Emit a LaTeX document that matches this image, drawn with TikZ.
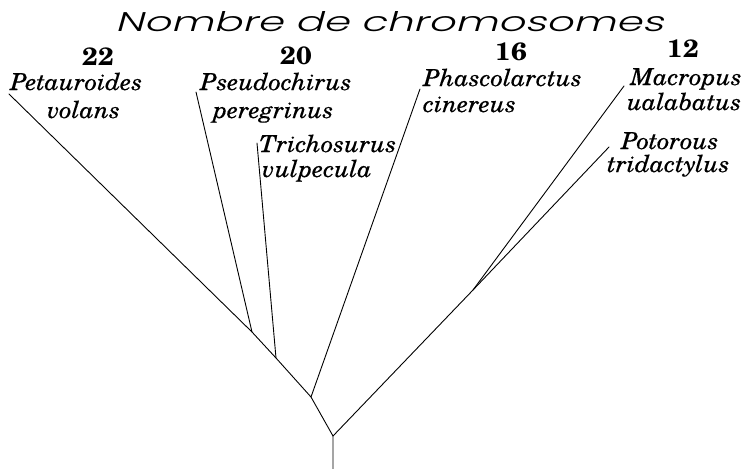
\documentclass[tikz,border=0pt]{standalone}
\usepackage{fontspec}
\newfontfamily\titlefont{Poppins Light}[FakeSlant=0.18]
\newfontfamily\spfont{texgyreschola-italic.otf}[FakeStretch=1.05,FakeBold=0.2]
\newfontfamily\numfont{texgyreschola-bold.otf}[FakeStretch=1.1]
\begin{document}
\begin{tikzpicture}[x=1pt,y=-1pt,
  branch/.style={line width=0.9pt,line cap=round,line join=round},
  species/.style={anchor=base west,inner sep=0pt,font=\fontsize{23.5}{28}\spfont},
  count/.style={anchor=base,inner sep=0pt,font=\fontsize{25}{28}\numfont}]
\useasboundingbox (0,0) rectangle (756,469);
\fill[white] (0,0) rectangle (756,469);
% title
\node[anchor=south west,inner sep=0pt] (title) at (115,32)
  {\resizebox{548pt}{20pt}{\titlefont Nombre de chromosomes}};
% counts
\node[count] (c22) at (98,65) {22};
\node[count] (c20) at (296,64) {20};
\node[count] (c16) at (511,60) {16};
\node[count] (c12) at (683,57) {12};
% species
\node[species] (pet1) at (10,90) {Petauroides};
\node[species] (pet2) at (47,118) {volans};
\node[species] (pse1) at (200,90) {Pseudochirus};
\node[species] (pse2) at (213,118) {peregrinus};
\node[species] (tri1) at (259,152) {Trichosurus};
\node[species] (tri2) at (262,177) {vulpecula};
\node[species] (pha1) at (423,86) {Phascolarctus};
\node[species] (pha2) at (423,112) {cinereus};
\node[species] (mac1) at (630,85) {Macropus};
\node[species] (mac2) at (627,110) {ualabatus};
\node[species] (pot1) at (621,149) {Potorous};
\node[species] (pot2) at (607,172) {tridactylus};
% tree coordinates
\coordinate (lpet) at (9,94);
\coordinate (lpse) at (196,92);
\coordinate (ltri) at (257,143);
\coordinate (lpha) at (420,89);
\coordinate (lmac) at (624,86);
\coordinate (lpot) at (609,147);
\coordinate (n3) at (252,332);
\coordinate (n2) at (276,358);
\coordinate (n1) at (311,397);
\coordinate (nm) at (473,290);
\coordinate (root) at (333,436);
\coordinate (base) at (333,469);
% branches
\draw[branch] (lpet) -- (n3) -- (n2) -- (n1) -- (root) -- (base);
\draw[branch] (lpse) -- (n3);
\draw[branch] (ltri) -- (n2);
\draw[branch] (lpha) -- (n1);
\draw[branch] (root) -- (nm) -- (lpot);
\draw[branch] (nm) -- (lmac);
\end{tikzpicture}
\end{document}
